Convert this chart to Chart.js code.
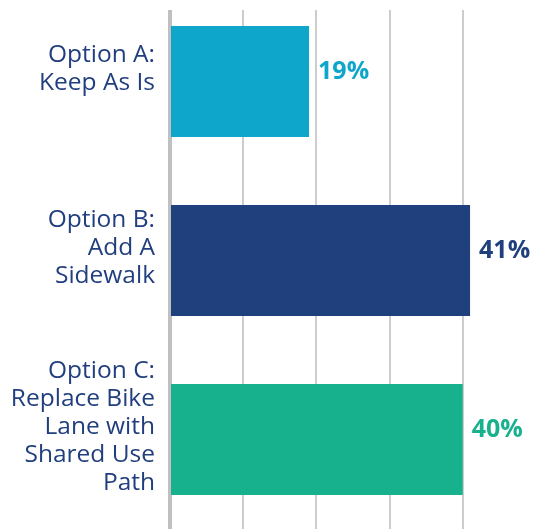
<!DOCTYPE html>
<html>
<head>
<meta charset="utf-8">
<title>Options Survey</title>
<script src="https://cdn.jsdelivr.net/npm/chart.js@4/dist/chart.umd.min.js"></script>
<style>
    html, body {
        margin: 0;
        padding: 0;
        background: #ffffff;
        overflow: hidden;
    }
    /* Clip the top strip so the grid starts a little below the page edge */
    .frame {
        position: absolute;
        left: 0;
        top: 10px;
        width: 533px;
        height: 520px;
        overflow: hidden;
    }
    #optionsChart {
        display: block;
        margin-top: -18px;
    }
</style>
</head>
<body>
<div class="frame">
    <canvas id="optionsChart" width="533" height="537"></canvas>
</div>
<script>
// Survey results
const categories = [
    ['Option A:', 'Keep As Is'],
    ['Option B:', 'Add A', 'Sidewalk'],
    ['Option C:', 'Replace Bike', 'Lane with', 'Shared Use', 'Path']
];
const shares = [19, 41, 40];
const barColors = ['#0ea7cb', '#1f3f7d', '#17b18d'];
const gridSteps = [0, 10, 20, 30, 40];

// Percent labels just past the end of each bar
const valueLabels = {
    id: 'valueLabels',
    afterDatasetsDraw(chart) {
        const ctx = chart.ctx;
        const meta = chart.getDatasetMeta(0);
        ctx.save();
        ctx.font = 'bold 25px "Open Sans"';
        ctx.textAlign = 'left';
        ctx.textBaseline = 'middle';
        meta.data.forEach((bar, i) => {
            ctx.fillStyle = barColors[i];
            ctx.fillText(shares[i] + '%', bar.x + 9, bar.y - 10);
        });
        ctx.restore();
    }
};

const ctx = document.getElementById('optionsChart').getContext('2d');

new Chart(ctx, {
    type: 'bar',
    data: {
        labels: categories,
        datasets: [{
            data: shares,
            backgroundColor: barColors,
            borderWidth: 0,
            barPercentage: 1,
            categoryPercentage: 0.62
        }]
    },
    plugins: [valueLabels],
    options: {
        indexAxis: 'y',
        responsive: false,
        animation: false,
        layout: { padding: 0 },
        plugins: {
            legend: { display: false },
            tooltip: { enabled: false }
        },
        scales: {
            x: {
                min: 0,
                max: 49.6,
                afterBuildTicks: (scale) => {
                    scale.ticks = gridSteps.map(v => ({ value: v }));
                },
                afterFit: (scale) => {
                    scale.height = 0;
                    scale.paddingLeft = 0;
                    scale.paddingRight = 0;
                },
                ticks: { display: false },
                grid: {
                    color: '#cdcdcd',
                    lineWidth: 2,
                    drawTicks: false
                },
                border: { display: false }
            },
            y: {
                afterFit: (scale) => {
                    // tall multi-line labels should not shrink the plot
                    scale.width = 170;
                    scale.paddingTop = 0;
                    scale.paddingBottom = 0;
                },
                ticks: {
                    color: '#213f7e',
                    font: { family: 'Open Sans', size: 24.5, lineHeight: '28px' },
                    padding: 15,
                    align: 'end'
                },
                grid: { display: false, drawTicks: false },
                border: { color: '#c0c0c0', width: 4 }
            }
        }
    }
});
</script>
</body>
</html>
